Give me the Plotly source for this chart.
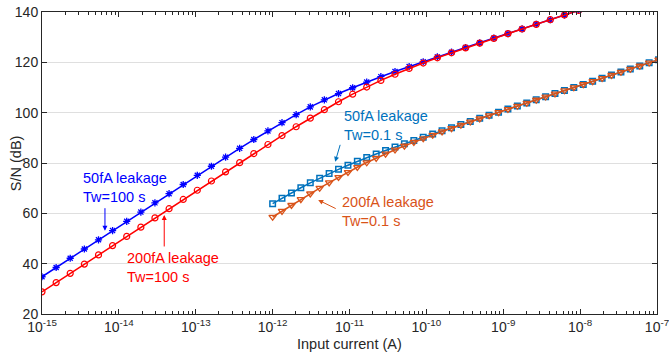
import plotly.graph_objects as go

# ---- data (log10 of input current in A, S/N in dB) ----
x_exp_100s = [-15.000, -14.816, -14.633, -14.449, -14.265, -14.082, -13.898, -13.714, -13.531, -13.347,
              -13.163, -12.980, -12.796, -12.612, -12.429, -12.245, -12.061, -11.878, -11.694, -11.510,
              -11.327, -11.143, -10.959, -10.776, -10.592, -10.408, -10.224, -10.041, -9.857, -9.673,
              -9.490, -9.306, -9.122, -8.939, -8.755, -8.571, -8.388, -8.204, -8.020]
snr_50fA_100s = [34.80, 38.47, 42.15, 45.82, 49.49, 53.16, 56.83, 60.49, 64.16, 67.81,
                 71.46, 75.10, 78.71, 82.30, 85.84, 89.33, 92.73, 96.01, 99.20, 102.30,
                 105.10, 107.60, 109.90, 112.16, 114.29, 116.34, 118.30, 120.24, 122.15, 124.02,
                 125.89, 127.75, 129.59, 131.44, 133.28, 135.12, 136.96, 138.80, 140.64]
snr_200fA_100s = [28.80, 32.47, 36.15, 39.82, 43.49, 47.17, 50.84, 54.51, 58.18, 61.85,
                  65.52, 69.18, 72.84, 76.49, 80.13, 83.75, 87.35, 90.90, 94.41, 97.83,
                  101.17, 104.34, 107.34, 110.18, 112.81, 115.27, 117.57, 119.72, 121.80, 123.78,
                  125.73, 127.64, 129.52, 131.39, 133.25, 135.10, 136.94, 138.79, 140.64]

x_exp_01s = [-12.000, -11.878, -11.755, -11.633, -11.510, -11.388, -11.265, -11.143, -11.020, -10.898,
             -10.776, -10.653, -10.531, -10.408, -10.286, -10.163, -10.041, -9.918, -9.796, -9.673,
             -9.551, -9.429, -9.306, -9.184, -9.061, -8.939, -8.816, -8.694, -8.571, -8.449,
             -8.327, -8.204, -8.082, -7.959, -7.837, -7.714, -7.592, -7.469, -7.347, -7.224,
             -7.102, -6.980]
snr_50fA_01s = [63.84, 66.01, 68.12, 70.16, 72.12, 73.99, 75.78, 77.48, 79.11, 80.66,
                82.15, 83.59, 84.97, 86.33, 87.66, 88.96, 90.24, 91.52, 92.77, 94.02,
                95.27, 96.50, 97.75, 98.97, 100.20, 101.44, 102.66, 103.89, 105.11, 106.35,
                107.57, 108.80, 110.02, 111.24, 112.47, 113.70, 114.92, 116.15, 117.37, 118.59,
                119.82, 121.04]
snr_200fA_01s = [58.54, 60.90, 63.25, 65.56, 67.83, 70.05, 72.22, 74.33, 76.36, 78.31,
                 80.18, 81.96, 83.65, 85.27, 86.81, 88.30, 89.73, 91.12, 92.47, 93.78,
                 95.09, 96.37, 97.64, 98.90, 100.14, 101.39, 102.63, 103.87, 105.09, 106.33,
                 107.55, 108.79, 110.01, 111.24, 112.46, 113.70, 114.92, 116.15, 117.37, 118.59,
                 119.82, 121.04]

x_tick_exps = [-15, -14, -13, -12, -11, -10, -9, -8, -7]
x_tick_labels = ["10<sup>-15</sup>", "10<sup>-14</sup>", "10<sup>-13</sup>", "10<sup>-12</sup>",
                 "10<sup>-11</sup>", "10<sup>-10</sup>", "10<sup>-9</sup>", "10<sup>-8</sup>", "10<sup>-7</sup>"]
y_ticks = [20, 40, 60, 80, 100, 120, 140]
x_title = "Input current (A)"
y_title = "S/N (dB)"

FONT = "Liberation Sans, Arial, Helvetica, sans-serif"
AX = "#262626"
C_BLUE = "#0000FF"
C_RED = "#FF0000"
C_MB = "#0072BD"
C_OR = "#D95319"

x100 = [10 ** e for e in x_exp_100s]
x01 = [10 ** e for e in x_exp_01s]

fig = go.Figure()
fig.add_trace(go.Scatter(x=x100, y=snr_50fA_100s, mode="lines+markers",
                         line=dict(color=C_BLUE, width=1.5),
                         marker=dict(symbol="asterisk-open", size=6, line=dict(color=C_BLUE, width=1.3)),
                         showlegend=False))
fig.add_trace(go.Scatter(x=x100, y=snr_200fA_100s, mode="lines+markers",
                         line=dict(color=C_RED, width=1.5),
                         marker=dict(symbol="circle-open", size=6, line=dict(color=C_RED, width=1.2)),
                         showlegend=False))
fig.add_trace(go.Scatter(x=x01, y=snr_50fA_01s, mode="lines+markers",
                         line=dict(color=C_MB, width=1.5),
                         marker=dict(symbol="square-open", size=5.5, line=dict(color=C_MB, width=1.5)),
                         showlegend=False))
fig.add_trace(go.Scatter(x=x01, y=snr_200fA_01s, mode="lines+markers",
                         line=dict(color=C_OR, width=1.5),
                         marker=dict(symbol="triangle-down-open", size=6.5, line=dict(color=C_OR, width=1.3)),
                         showlegend=False))

minor_vals = [k * 10 ** e for e in range(-15, -7) for k in range(2, 10)]

fig.update_xaxes(type="log", range=[-15.00001, -6.99999], automargin=False,
                 tickvals=[10 ** e for e in x_tick_exps], ticktext=x_tick_labels,
                 ticklabeloverflow="allow",
                 ticks="inside", ticklen=5, tickcolor=AX, tickwidth=1,
                 minor=dict(tickvals=minor_vals, ticks="inside", ticklen=3, tickcolor=AX, showgrid=False),
                 showline=True, linecolor=AX, linewidth=1, mirror="ticks",
                 showgrid=False, zeroline=False,
                 tickfont=dict(family=FONT, size=14, color=AX))
fig.update_yaxes(range=[20, 140], tickvals=y_ticks, automargin=False,
                 ticklabeloverflow="allow",
                 ticks="inside", ticklen=5, tickcolor=AX, tickwidth=1,
                 showline=True, linecolor=AX, linewidth=1, mirror="ticks",
                 showgrid=True, gridcolor="#DFDFDF", gridwidth=1, zeroline=False,
                 tickfont=dict(family=FONT, size=14, color=AX))

# axis titles
fig.add_annotation(x=0.5, y=-0.099, xref="paper", yref="paper", text=x_title, showarrow=False,
                   xanchor="center", yanchor="middle", font=dict(family=FONT, size=14.5, color=AX))
fig.add_annotation(x=-0.042, y=0.5, xref="paper", yref="paper", text=y_title, showarrow=False,
                   textangle=-90, xanchor="center", yanchor="middle",
                   font=dict(family=FONT, size=14.5, color=AX))

TF = 14.5
texts = [
    ("50fA leakage<br>Tw=100 s", -14.484, 70.15, C_BLUE),
    ("200fA leakage<br>Tw=100 s", -13.908, 38.5, C_RED),
    ("50fA leakage<br>Tw=0.1 s", -11.090, 94.77, C_MB),
    ("200fA leakage<br>Tw=0.1 s", -11.116, 60.8, C_OR),
]
for t, xx, yy, c in texts:
    fig.add_annotation(x=xx, y=yy, xref="x", yref="y", text=t, showarrow=False,
                       xanchor="left", yanchor="middle", align="left",
                       font=dict(family=FONT, size=TF, color=c), borderpad=0)

arrows = [
    (-14.181, 53.1, 0, -24, C_BLUE),
    (-13.41, 59.35, 0, 33, C_RED),
    (-11.186, 80.5, 5.4, -18.4, C_MB),
    (-11.407, 65.3, 19, 9.3, C_OR),
]
for xx, yy, ax, ay, c in arrows:
    fig.add_annotation(x=xx, y=yy, xref="x", yref="y", text="", showarrow=True,
                       ax=ax, ay=ay, arrowhead=2, arrowsize=1, arrowwidth=1, arrowcolor=c)

fig.update_layout(width=669, height=358, margin=dict(l=42, r=12, t=12, b=44),
                  plot_bgcolor="white", paper_bgcolor="white",
                  font=dict(family=FONT, color=AX))

fig.write_html("out.html", config={"displayModeBar": False},
               post_script="document.body.style.margin='0px';document.body.style.overflow='hidden';")
